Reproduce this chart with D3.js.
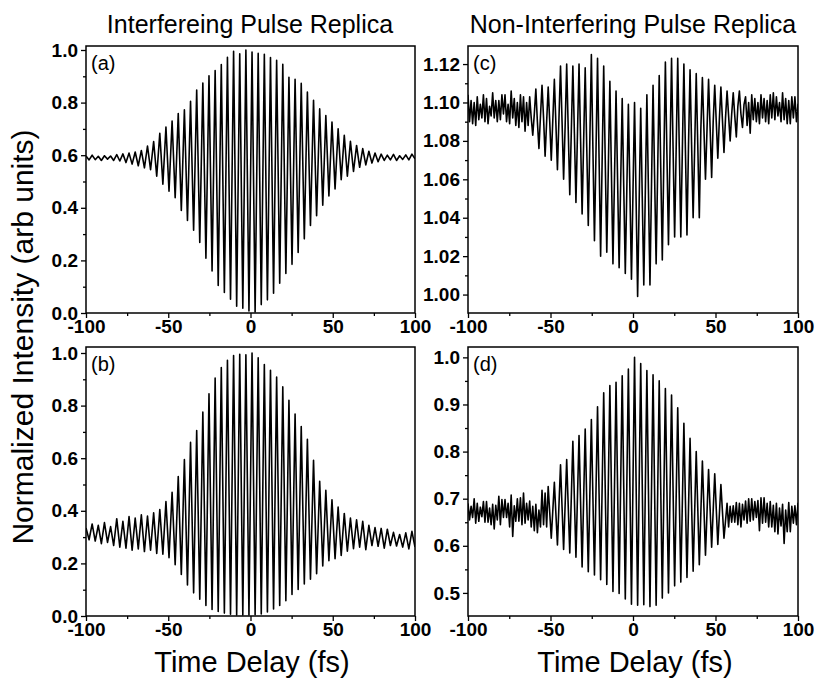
<!DOCTYPE html>
<html>
<head>
<meta charset="utf-8">
<script src="https://cdn.jsdelivr.net/npm/d3@7"></script>
<style>
  body { margin: 0; background: #fff; }
  svg { display: block; font-family: "Liberation Sans", Arial, sans-serif; }
</style>
</head>
<body>
<div id="chart"></div>
<script>
  // tick values
  const xMajor = [-100, -50, 0, 50, 100];
  const xMinor = [-75, -25, 25, 75];
  const yMajorAB = [0, 0.2, 0.4, 0.6, 0.8, 1.0];
  const yMinorAB = [0.1, 0.3, 0.5, 0.7, 0.9];
  const yMajorC = [1.00, 1.02, 1.04, 1.06, 1.08, 1.10, 1.12];
  const yMinorC = [1.01, 1.03, 1.05, 1.07, 1.09, 1.11];
  const yMajorD = [0.5, 0.6, 0.7, 0.8, 0.9, 1.0];
  const yMinorD = [0.55, 0.65, 0.75, 0.85, 0.95];

  // fringe maxima / minima, one per fringe
  const peaksA = [.597,.600,.596,.598,.597,.602,.605,.608,.612,.618,
    .635,.652,.683,.707,.730,.758,.773,.805,.848,.874,
    .902,.922,.945,.972,.995,.986,1.000,.992,.987,.984,
    .971,.961,.946,.896,.889,.873,.840,.809,.776,.751,
    .726,.700,.676,.653,.637,.625,.615,.608,.604,.600,
    .603,.598,.601,.604];
  const troughsA = [.582,.583,.580,.585,.580,.578,.572,.566,.560,.552,
    .545,.520,.490,.463,.438,.390,.352,.315,.268,.208,
    .160,.105,.078,.052,.026,.018,.008,.004,.032,.050,
    .075,.113,.150,.185,.230,.282,.333,.370,.410,.445,
    .472,.507,.520,.538,.554,.563,.570,.575,.580,.582,
    .580,.584,.582,.586];

  const peaksB = [.335,.350,.345,.355,.340,.370,.360,.378,.372,.385,
    .380,.392,.405,.435,.470,.530,.595,.660,.705,.775,
    .845,.905,.945,.972,.990,.995,.993,1.000,.982,.956,
    .934,.909,.871,.820,.768,.720,.672,.592,.512,.478,
    .442,.414,.390,.372,.366,.360,.345,.336,.333,.330,
    .318,.310,.316,.322];
  const troughsB = [.290,.285,.275,.280,.268,.262,.258,.250,.255,.245,
    .250,.238,.235,.222,.195,.158,.118,.088,.064,.040,
    .025,.017,.011,.007,.004,.004,.004,.005,.008,.015,
    .027,.040,.058,.082,.101,.122,.140,.161,.190,.210,
    .218,.230,.246,.256,.262,.252,.268,.265,.258,.268,
    .266,.262,.255,.262];

  // panels (c) and (d) are noisier: four samples per fringe
  const peaksC = [1.104,1.100,1.099,1.102,1.105,1.101,1.104,1.106,1.100,1.103,
    1.103,1.107,1.109,1.108,1.112,1.119,1.120,1.119,1.120,1.118,
    1.125,1.123,1.119,1.111,1.106,1.102,1.099,1.100,1.097,1.104,
    1.109,1.114,1.121,1.123,1.123,1.120,1.117,1.115,1.113,1.112,
    1.109,1.108,1.106,1.105,1.106,1.103,1.104,1.100,1.102,1.104,
    1.103,1.105,1.101,1.103];
  const fallsC = [1.090,1.088,1.092,1.089,1.092,1.091,1.090,1.092,1.087,1.085,
    1.092,1.090,1.092,1.090,1.089,1.090,1.086,1.084,1.081,1.077,
    1.076,1.071,1.070,1.064,1.060,1.056,1.054,1.050,1.051,1.055,
    1.062,1.066,1.073,1.076,1.077,1.075,1.078,1.078,1.086,1.087,
    1.090,1.091,1.093,1.093,1.094,1.088,1.091,1.089,1.090,1.092,
    1.093,1.091,1.089,1.090];
  const troughsC = [1.101,1.103,1.104,1.098,1.101,1.104,1.099,1.102,1.104,1.100,
    1.083,1.076,1.072,1.070,1.065,1.060,1.052,1.048,1.042,1.036,
    1.028,1.020,1.022,1.016,1.014,1.011,1.008,0.999,1.005,1.005,
    1.016,1.018,1.026,1.030,1.030,1.031,1.040,1.040,1.060,1.061,
    1.071,1.074,1.080,1.082,1.087,1.100,1.102,1.104,1.101,1.105,
    1.100,1.102,1.103,1.099];
  const risesC = [1.089,1.091,1.090,1.093,1.090,1.094,1.089,1.088,1.090,1.088,
    1.094,1.093,1.090,1.091,1.092,1.088,1.085,1.084,1.080,1.080,
    1.074,1.070,1.066,1.061,1.058,1.055,1.054,1.048,1.054,1.057,
    1.065,1.070,1.074,1.076,1.075,1.078,1.077,1.086,1.086,1.090,
    1.091,1.092,1.094,1.098,1.099,1.084,1.090,1.092,1.089,1.091,
    1.090,1.089,1.092,1.091];

  const peaksD = [.690,.700,.682,.694,.688,.705,.698,.708,.700,.712,
    .695,.688,.718,.726,.735,.772,.783,.822,.834,.848,
    .868,.895,.925,.940,.947,.961,.975,1.000,.987,.972,
    .963,.950,.934,.920,.893,.860,.828,.800,.780,.762,
    .753,.730,.690,.685,.690,.695,.700,.696,.702,.694,
    .690,.688,.692,.685];
  const fallsD = [.655,.648,.662,.650,.636,.645,.660,.620,.652,.648,
    .640,.628,.645,.671,.668,.682,.684,.699,.694,.696,
    .703,.711,.721,.721,.723,.724,.725,.737,.731,.721,
    .718,.719,.717,.717,.708,.696,.687,.680,.680,.679,
    .678,.673,.640,.650,.640,.648,.655,.632,.650,.640,
    .625,.605,.630,.645];
  const troughsD = [.684,.690,.694,.680,.686,.698,.690,.685,.702,.690,
    .684,.676,.712,.616,.602,.592,.585,.576,.555,.545,
    .538,.528,.518,.503,.499,.487,.476,.474,.475,.471,
    .474,.489,.500,.515,.523,.533,.546,.560,.580,.597,
    .603,.616,.684,.692,.688,.700,.694,.702,.690,.686,
    .680,.676,.684,.690];
  const risesD = [.660,.652,.650,.645,.655,.660,.640,.652,.645,.655,
    .632,.640,.640,.675,.687,.688,.703,.705,.701,.706,
    .716,.726,.729,.725,.730,.731,.738,.730,.723,.717,
    .712,.711,.710,.704,.691,.680,.673,.670,.671,.675,
    .666,.653,.650,.645,.655,.652,.660,.648,.640,.630,
    .642,.630,.648,.650];

  // delay grid: one fringe every 2 * 200 / 107 fs across -100..100 fs
  const fringeStep = 2 * 200 / (peaksA.length * 2 - 1);

  const width = 816, height = 682;

  const panels = [
    {label: "(a)", series: [peaksA, troughsA], left: 86, top: 46, w: 329, h: 267,
     ydomain: [0, 1.0152], major: yMajorAB, minor: yMinorAB, fmt: ".1f"},
    {label: "(b)", series: [peaksB, troughsB], left: 86, top: 347, w: 329, h: 269,
     ydomain: [0, 1.0228], major: yMajorAB, minor: yMinorAB, fmt: ".1f"},
    {label: "(c)", series: [peaksC, fallsC, troughsC, risesC], left: 468, top: 46, w: 330, h: 267,
     ydomain: [0.9904, 1.1294], major: yMajorC, minor: yMinorC, fmt: ".2f"},
    {label: "(d)", series: [peaksD, fallsD, troughsD, risesD], left: 468, top: 347, w: 330, h: 269,
     ydomain: [0.451, 1.022], major: yMajorD, minor: yMinorD, fmt: ".1f"}
  ];

  const svg = d3.select("#chart").append("svg")
    .attr("width", width)
    .attr("height", height);

  function styleAxis(g) {
    g.select(".domain").remove();
    g.selectAll("line").attr("stroke", "#000").attr("stroke-width", 1.3);
    g.selectAll("text")
      .attr("fill", "#000")
      .style("font-family", "'Liberation Sans', Arial, sans-serif")
      .style("font-size", "19px")
      .style("font-weight", "bold");
  }

  panels.forEach(function (p, i) {
    const g = svg.append("g")
      .attr("transform", "translate(" + p.left + "," + p.top + ")");

    const x = d3.scaleLinear().domain([-100, 100]).range([0, p.w]);
    const y = d3.scaleLinear().domain(p.ydomain).range([p.h, 0]);

    // interleave the per-fringe samples into one trace
    const m = p.series.length;
    const pts = [];
    p.series[0].forEach(function (v, k) {
      for (let j = 0; j < m; j++) {
        pts.push([-100 + (k + j / m) * fringeStep, p.series[j][k]]);
      }
    });

    g.append("clipPath").attr("id", "clip" + i)
      .append("rect").attr("width", p.w).attr("height", p.h);

    g.append("path")
      .datum(pts)
      .attr("clip-path", "url(#clip" + i + ")")
      .attr("fill", "none")
      .attr("stroke", "#000")
      .attr("stroke-width", 1.6)
      .attr("stroke-linejoin", "round")
      .attr("d", d3.line().x(d => x(d[0])).y(d => y(d[1])));

    // ticks
    g.append("g")
      .attr("transform", "translate(0," + p.h + ")")
      .call(d3.axisBottom(x).tickValues(xMajor).tickSize(5).tickPadding(2).tickFormat(d => String(d)))
      .call(styleAxis);
    g.append("g")
      .attr("transform", "translate(0," + p.h + ")")
      .call(d3.axisBottom(x).tickValues(xMinor).tickSize(3).tickFormat(""))
      .call(styleAxis);
    g.append("g")
      .call(d3.axisLeft(y).tickValues(p.major).tickSize(5).tickPadding(3).tickFormat(d3.format(p.fmt)))
      .call(styleAxis);
    g.append("g")
      .call(d3.axisLeft(y).tickValues(p.minor).tickSize(3).tickFormat(""))
      .call(styleAxis);

    g.append("rect")
      .attr("width", p.w).attr("height", p.h)
      .attr("fill", "none").attr("stroke", "#000").attr("stroke-width", 1.5);

    g.append("text")
      .attr("x", 5).attr("y", 24)
      .style("font-size", "20px")
      .text(p.label);
  });

  // column titles
  svg.append("text")
    .attr("x", 250).attr("y", 33).attr("text-anchor", "middle")
    .style("font-size", "25px")
    .text("Interfereing Pulse Replica");
  svg.append("text")
    .attr("x", 633).attr("y", 33).attr("text-anchor", "middle")
    .style("font-size", "25px")
    .text("Non-Interfering Pulse Replica");

  // axis titles
  svg.append("text")
    .attr("x", 252).attr("y", 672).attr("text-anchor", "middle")
    .style("font-size", "29px")
    .text("Time Delay (fs)");
  svg.append("text")
    .attr("x", 635).attr("y", 672).attr("text-anchor", "middle")
    .style("font-size", "29px")
    .text("Time Delay (fs)");
  svg.append("text")
    .attr("transform", "translate(33,337) rotate(-90)")
    .attr("text-anchor", "middle")
    .style("font-size", "30px")
    .text("Normalized Intensity (arb units)");
</script>
</body>
</html>
